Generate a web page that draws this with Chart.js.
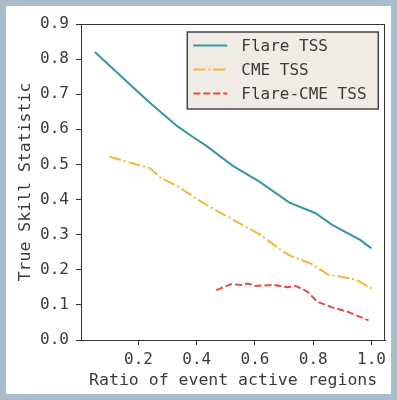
<!DOCTYPE html>
<html>
<head>
<meta charset="utf-8">
<script src="https://cdn.jsdelivr.net/npm/chart.js@4.4.1/dist/chart.umd.min.js"></script>
<style>
  html,body{margin:0;padding:0;background:#a9bccb;width:397px;height:400px;overflow:hidden}
  #panel{position:absolute;left:6px;top:6px;width:385px;height:388px;background:#fff}
</style>
</head>
<body>
<div id="panel"><canvas id="c"></canvas></div>
<script>
/* TSS vs ratio of event active regions */

// data
var FLARE_X=[0.05,0.234,0.333,0.382,0.433,0.524,0.615,0.717,0.808,0.865,0.961,1.0];
var FLARE_Y=[0.82,0.679,0.609,0.581,0.553,0.496,0.451,0.392,0.361,0.328,0.285,0.261];
var CME_X=[0.1,0.24,0.274,0.336,0.388,0.433,0.496,0.62,0.689,0.723,0.791,0.854,0.905,0.95,1.0];
var CME_Y=[0.522,0.489,0.463,0.437,0.408,0.385,0.356,0.299,0.256,0.239,0.218,0.185,0.179,0.171,0.147];
var FC_X=[0.467,0.518,0.552,0.575,0.598,0.666,0.711,0.74,0.78,0.814,0.865,0.916,0.99];
var FC_Y=[0.142,0.159,0.157,0.161,0.154,0.157,0.15,0.154,0.138,0.109,0.093,0.081,0.056];
var X_TICKS=[0.2,0.4,0.6,0.8,1.0];
var Y_TICKS=[0,0.1,0.2,0.3,0.4,0.5,0.6,0.7,0.8,0.9];

function pts(xs,ys){ return xs.map(function(x,i){return {x:x,y:ys[i]};}); }

Chart.defaults.font.family='"DejaVu Sans Mono", monospace';
Chart.defaults.color='#3a3a3a';

// top/right spines + matplotlib style legend box
var framePlugin={
  id:'frame',
  afterDatasetsDraw:function(chart){
    var ctx=chart.ctx,a=chart.chartArea;
    ctx.save();
    ctx.strokeStyle='#333';ctx.lineWidth=1;
    ctx.strokeRect(Math.round(a.left)+0.5,Math.round(a.top)+0.5,Math.round(a.right-a.left)-1,Math.round(a.bottom-a.top));
    // legend
    var w=191,h=77,bx=a.right-7-w,by=a.top+8;
    ctx.fillStyle='#f0ece5';
    ctx.fillRect(bx,by,w,h);
    ctx.strokeStyle='#444';ctx.lineWidth=1.5;
    ctx.strokeRect(bx,by,w,h);
    ctx.font='16px "DejaVu Sans Mono", monospace';
    ctx.textBaseline='middle';
    chart.data.datasets.forEach(function(ds,i){
      var y=by+13.5+i*24;
      ctx.beginPath();
      ctx.setLineDash(ds.borderDash||[]);
      ctx.strokeStyle=ds.borderColor;ctx.lineWidth=2;
      ctx.moveTo(bx+6,y);ctx.lineTo(bx+40,y);ctx.stroke();
      ctx.setLineDash([]);
      ctx.fillStyle='#3a3a3a';
      ctx.fillText(ds.label,bx+54,y+1);
    });
    ctx.restore();
  }
};

new Chart(document.getElementById('c'),{
  type:'line',
  data:{datasets:[
    {label:'Flare TSS',data:pts(FLARE_X,FLARE_Y),borderColor:'#3597a3',borderWidth:2},
    {label:'CME TSS',data:pts(CME_X,CME_Y),borderColor:'#f0b93c',borderWidth:2,borderDash:[12,3,2,3]},
    {label:'Flare-CME TSS',data:pts(FC_X,FC_Y),borderColor:'#ea4b41',borderWidth:2,borderDash:[7,3]}
  ]},
  options:{
    responsive:true,maintainAspectRatio:false,animation:false,
    layout:{padding:{left:0,right:2,top:18,bottom:0}},
    elements:{point:{radius:0},line:{tension:0,fill:false}},
    plugins:{legend:{display:false},tooltip:{enabled:false}},
    scales:{
      x:{type:'linear',min:0.0025,max:1.0475,
        afterBuildTicks:function(s){s.ticks=X_TICKS.map(function(v){return {value:v};});},
        afterFit:function(s){s.height=54;},
        ticks:{padding:5,font:{size:16},callback:function(v){return v.toFixed(1);}},
        grid:{drawOnChartArea:false,drawTicks:true,tickLength:5,color:'#333'},
        border:{color:'#333',width:1},
        title:{display:true,text:'Ratio of event active regions',font:{size:16.5},padding:{top:0,bottom:3}}
      },
      y:{min:0,max:0.9,
        afterBuildTicks:function(s){s.ticks=Y_TICKS.map(function(v){return {value:v};});},
        afterFit:function(s){s.width=75;},
        ticks:{padding:7,font:{size:16},callback:function(v){return v.toFixed(1);}},
        grid:{drawOnChartArea:false,drawTicks:true,tickLength:5,color:'#333'},
        border:{color:'#333',width:1},
        title:{display:true,text:'True Skill Statistic',font:{size:16.5},padding:{top:10,bottom:0}}
      }
    }
  },
  plugins:[framePlugin]
});
</script>
</body>
</html>
